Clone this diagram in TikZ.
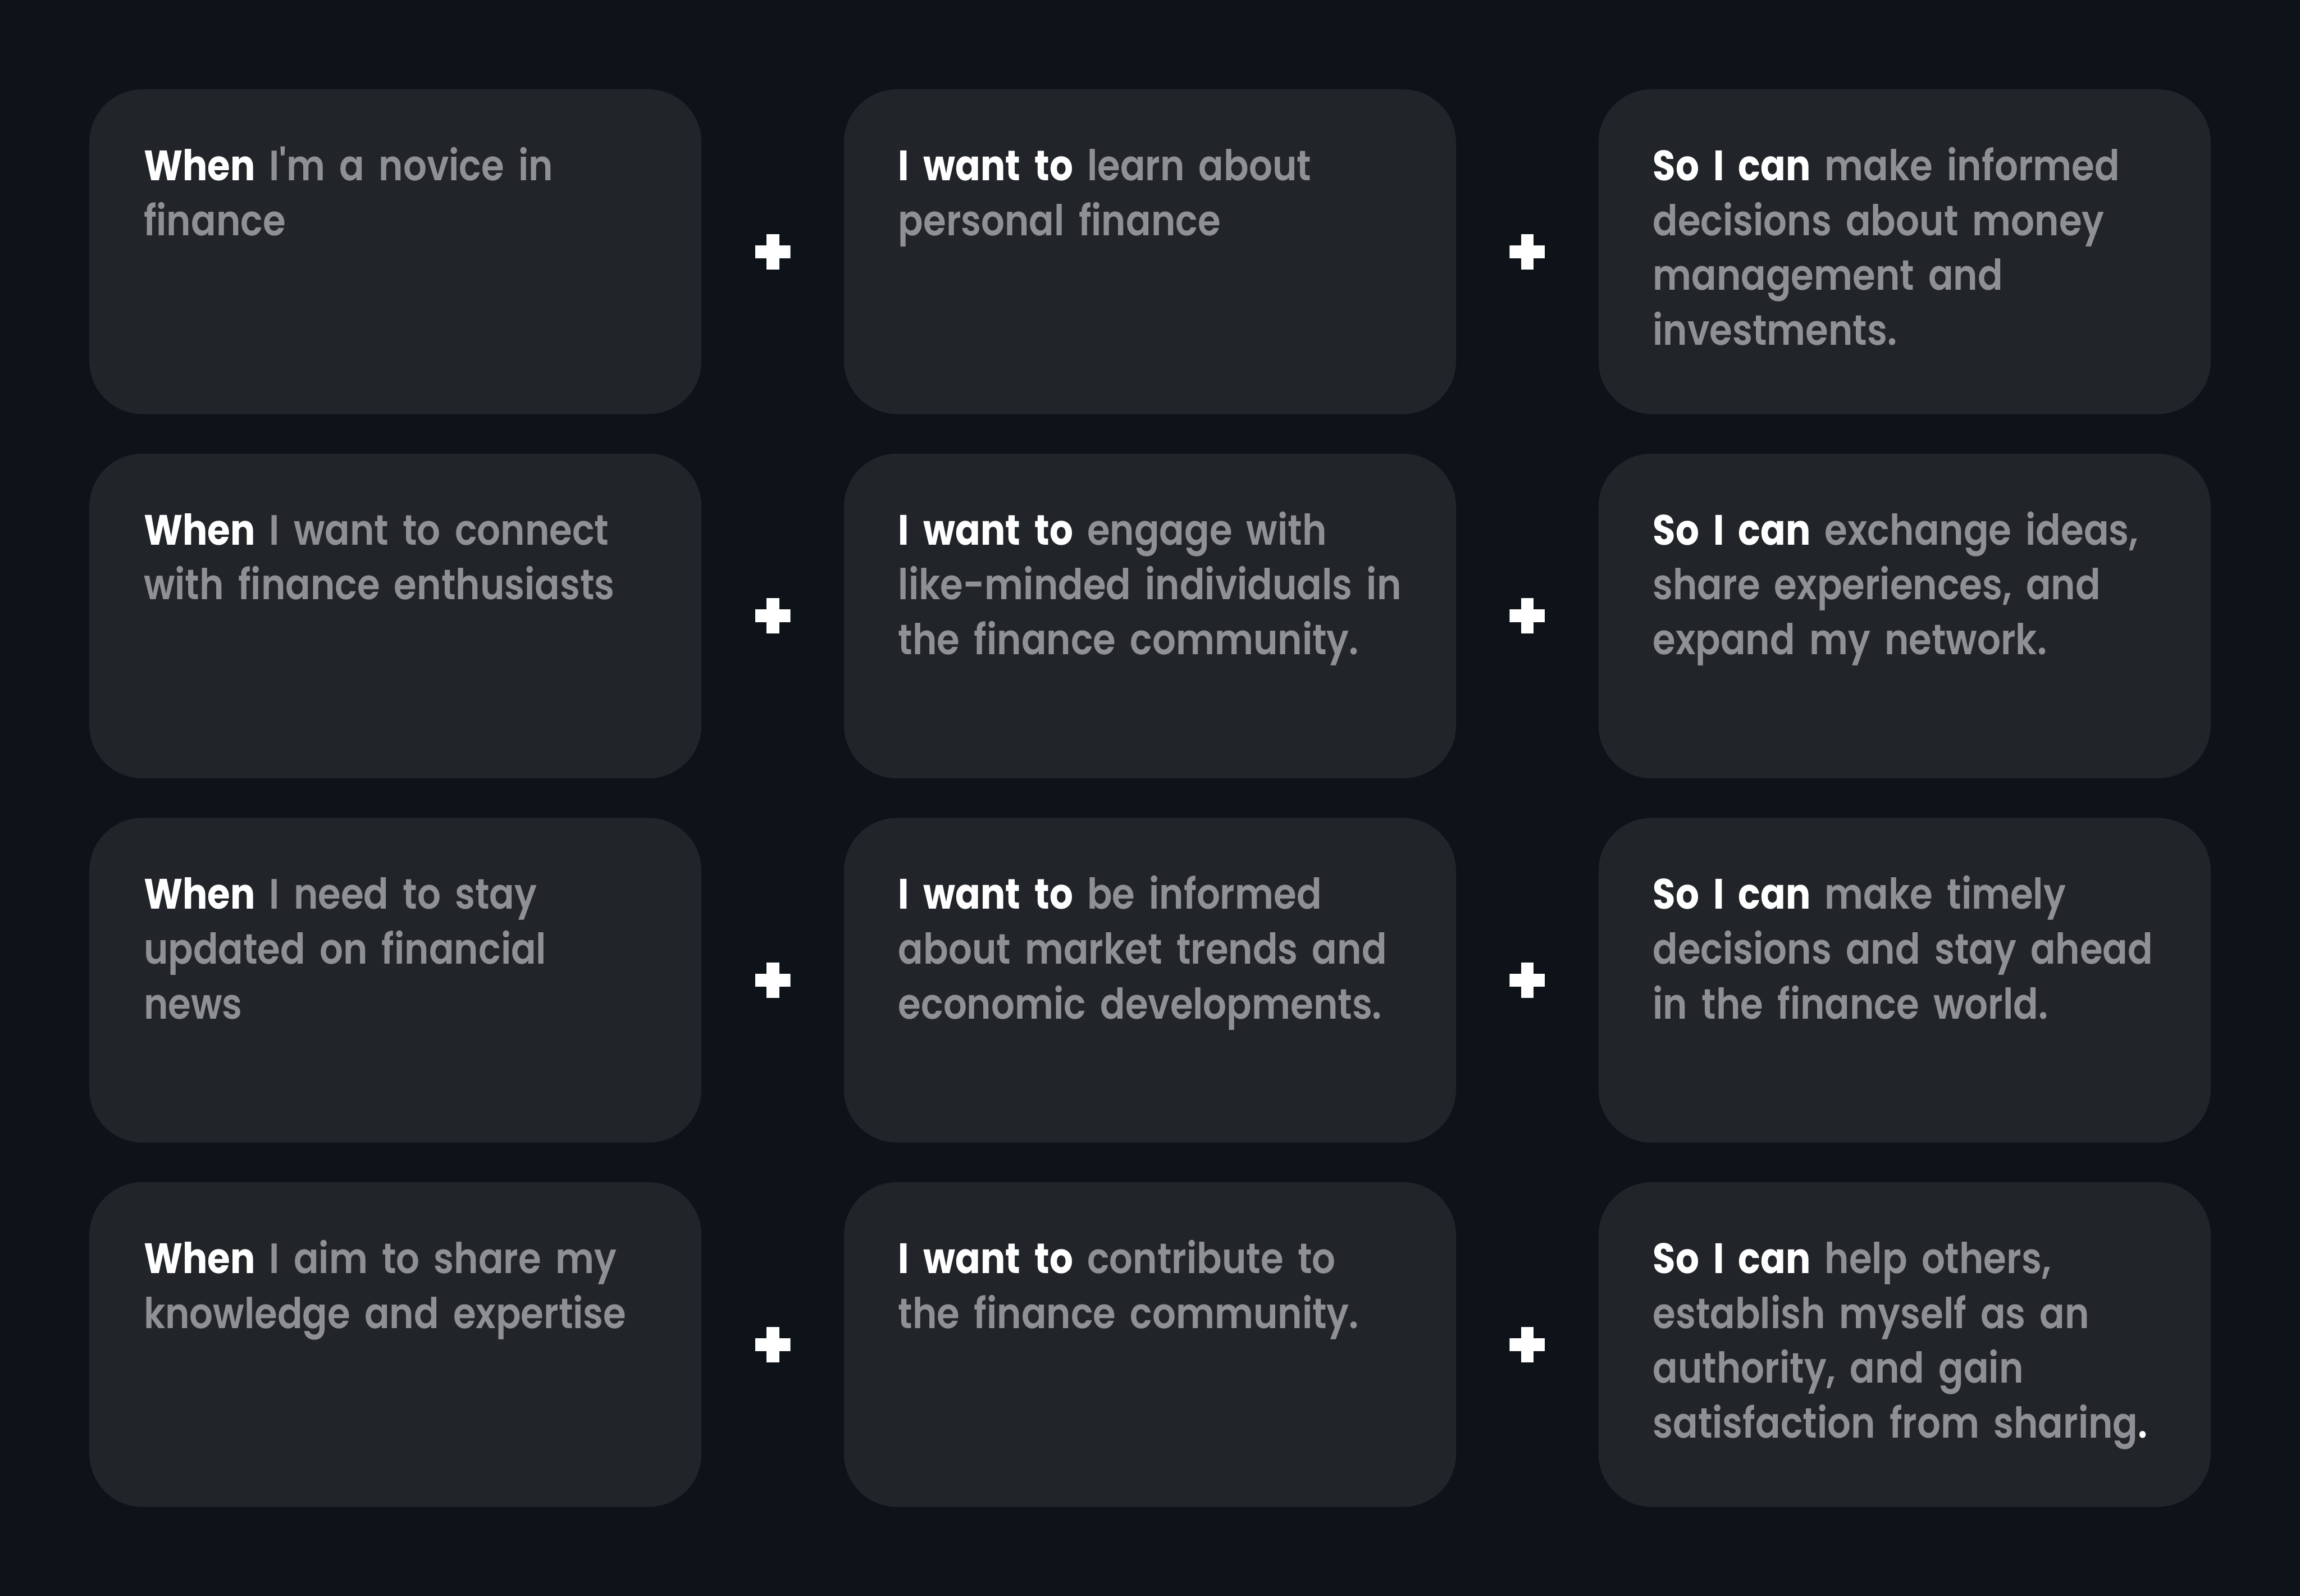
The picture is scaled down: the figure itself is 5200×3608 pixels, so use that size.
\documentclass[tikz,border=0pt]{standalone}
\usepackage{fontspec}
\newfontfamily\medfont{Poppins SemiBold}[FakeStretch=0.87]
\newfontfamily\semifont{Poppins Bold}[FakeStretch=0.87]
\definecolor{bgc}{HTML}{0E1319}
\definecolor{boxc}{HTML}{212429}
\definecolor{txtc}{HTML}{8E9095}
\newcommand{\wlead}[1]{{\semifont\color{white}#1}}
\begin{document}
\begin{tikzpicture}[x=0.2pt,y=-0.2pt,
  cardbox/.style={fill=boxc, draw=none, rounded corners=24pt, minimum width=276.8pt, minimum height=146.8pt, inner sep=0pt},
  cardtext/.style={anchor=base west, inner sep=0pt, text width=300pt, align=left, text=txtc, font=\medfont\fontsize{19.2pt}{24.8pt}\selectfont},
  plusmark/.style={minimum size=16pt, inner sep=0pt, path picture={
     \fill[white] ([xshift=-8pt,yshift=-2.9pt]path picture bounding box.center) rectangle ([xshift=8pt,yshift=2.9pt]path picture bounding box.center);
     \fill[white] ([xshift=-2.9pt,yshift=-8pt]path picture bounding box.center) rectangle ([xshift=2.9pt,yshift=8pt]path picture bounding box.center);}}]
\fill[bgc] (0,0) rectangle (5200,3608);
\useasboundingbox (0,0) rectangle (5200,3608);
% boxes
\node[cardbox] (b11) at (894,569) {};
\node[cardbox] (b12) at (2600,569) {};
\node[cardbox] (b13) at (4306,569) {};
\node[cardbox] (b21) at (894,1392.5) {};
\node[cardbox] (b22) at (2600,1392.5) {};
\node[cardbox] (b23) at (4306,1392.5) {};
\node[cardbox] (b31) at (894,2216) {};
\node[cardbox] (b32) at (2600,2216) {};
\node[cardbox] (b33) at (4306,2216) {};
\node[cardbox] (b41) at (894,3039.5) {};
\node[cardbox] (b42) at (2600,3039.5) {};
\node[cardbox] (b43) at (4306,3039.5) {};
% plus signs
\node[plusmark] (p1a) at (1747,569) {};
\node[plusmark] (p1b) at (3453,569) {};
\node[plusmark] (p2a) at (1747,1392.5) {};
\node[plusmark] (p2b) at (3453,1392.5) {};
\node[plusmark] (p3a) at (1747,2216) {};
\node[plusmark] (p3b) at (3453,2216) {};
\node[plusmark] (p4a) at (1747,3039.5) {};
\node[plusmark] (p4b) at (3453,3039.5) {};
% texts
\node[cardtext] (t11) at (324,408) {\wlead{When} I'm a novice in\\finance};
\node[cardtext] (t12) at (2030,408) {\wlead{I want to} learn about\\personal finance};
\node[cardtext] (t13) at (3736,408) {\wlead{So I can} make informed\\decisions about money\\management and\\investments.};
\node[cardtext] (t21) at (324,1231.5) {\wlead{When} I want to connect\\with finance enthusiasts};
\node[cardtext] (t22) at (2030,1231.5) {\wlead{I want to} engage with\\like-minded individuals in\\the finance community.};
\node[cardtext] (t23) at (3736,1231.5) {\wlead{So I can} exchange ideas,\\share experiences, and\\expand my network.};
\node[cardtext] (t31) at (324,2055) {\wlead{When} I need to stay\\updated on financial\\news};
\node[cardtext] (t32) at (2030,2055) {\wlead{I want to} be informed\\about market trends and\\economic developments.};
\node[cardtext] (t33) at (3736,2055) {\wlead{So I can} make timely\\decisions and stay ahead\\in the finance world.};
\node[cardtext] (t41) at (324,2878.5) {\wlead{When} I aim to share my\\knowledge and expertise};
\node[cardtext] (t42) at (2030,2878.5) {\wlead{I want to} contribute to\\the finance community.};
\node[cardtext] (t43) at (3736,2878.5) {\wlead{So I can} help others,\\establish myself as an\\authority, and gain\\satisfaction from sharing{\color{white}.}};
\end{tikzpicture}
\end{document}
